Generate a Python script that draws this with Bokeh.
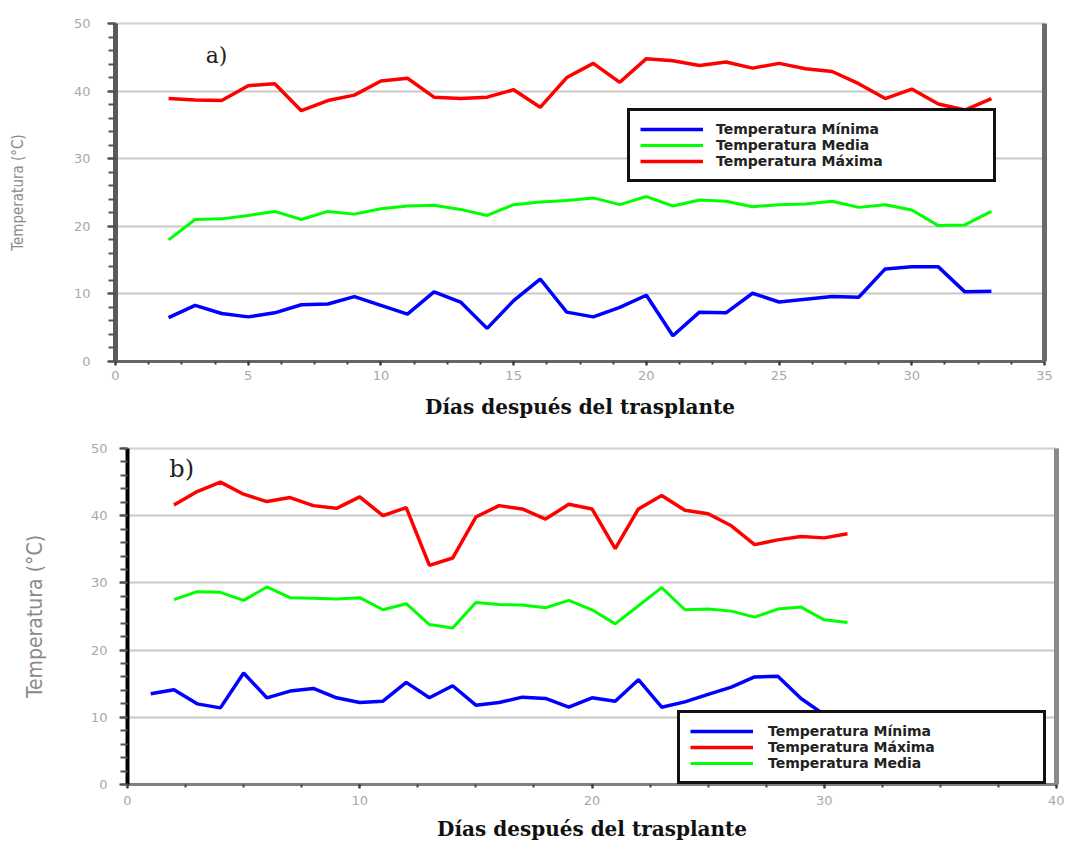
from bokeh.plotting import figure
from bokeh.models import (Legend, LegendItem, Label, LinearAxis, SingleIntervalTicker,
                          FixedTicker, Range1d)
from bokeh.embed import file_html
from bokeh.resources import INLINE

# ---------------- data: panel a ----------------
days_a = list(range(2, 34))
t_min_a = [6.5, 8.3, 7.1, 6.6, 7.2, 8.4, 8.5, 9.6, 8.3, 7.0, 10.3, 8.8, 4.9, 9.0, 12.2,
           7.3, 6.6, 8.0, 9.8, 3.8, 7.3, 7.2, 10.1, 8.8, 9.2, 9.6, 9.5, 13.7, 14.0, 14.0, 10.3, 10.4]
t_med_a = [18.0, 21.0, 21.1, 21.6, 22.2, 21.0, 22.2, 21.8, 22.6, 23.0, 23.1, 22.5, 21.6, 23.2, 23.6,
           23.8, 24.2, 23.2, 24.4, 23.0, 23.9, 23.7, 22.9, 23.2, 23.3, 23.7, 22.8, 23.2, 22.4, 20.1, 20.2, 22.2]
t_max_a = [38.9, 38.7, 38.6, 40.8, 41.1, 37.1, 38.6, 39.4, 41.5, 41.9, 39.1, 38.9, 39.1, 40.2, 37.6,
           42.0, 44.1, 41.3, 44.8, 44.5, 43.8, 44.3, 43.4, 44.1, 43.3, 42.9, 41.1, 38.9, 40.3, 38.1, 37.2, 38.9]

# ---------------- data: panel b ----------------
days_b_min = list(range(1, 32))
days_b = list(range(2, 32))
t_min_b = [13.5, 14.1, 12.0, 11.4, 16.6, 12.9, 13.9, 14.3, 12.9, 12.2, 12.4, 15.2, 12.9, 14.7, 11.8, 12.2, 13.0,
           12.8, 11.5, 12.9, 12.4, 15.6, 11.5, 12.3, 13.4, 14.5, 16.0, 16.1, 12.8, 10.4, 9.0]
t_max_b = [41.6, 43.6, 45.0, 43.2, 42.1, 42.7, 41.5, 41.1, 42.8, 40.0, 41.2, 32.6, 33.7, 39.8, 41.5, 41.0,
           39.5, 41.7, 41.0, 35.1, 41.0, 43.0, 40.8, 40.3, 38.5, 35.7, 36.4, 36.9, 36.7, 37.3]
t_med_b = [27.5, 28.7, 28.6, 27.4, 29.4, 27.8, 27.7, 27.6, 27.8, 26.0, 26.9, 23.8, 23.3, 27.1, 26.8, 26.7,
           26.3, 27.4, 26.0, 23.9, 26.6, 29.3, 26.0, 26.1, 25.8, 24.9, 26.1, 26.4, 24.5, 24.1]

lbl_min = "Temperatura Mínima"
lbl_med = "Temperatura Media"
lbl_max = "Temperatura Máxima"
x_title = "Días después del trasplante"
y_title = "Temperatura (°C)"

BLUE = "#0000ff"
GREEN = "#00ff00"
RED = "#ff0000"


def style(p, xint, left_color, left_w, bottom_color, right_color, ylab_size, ylab_standoff,
          ylabel_tick_standoff, xlab_tick_standoff, xlab_standoff):
    p.xaxis.ticker = SingleIntervalTicker(interval=xint, num_minor_ticks=4)
    p.yaxis.ticker = SingleIntervalTicker(interval=10, num_minor_ticks=5)
    p.xgrid.grid_line_color = None
    p.ygrid.ticker = SingleIntervalTicker(interval=10)
    p.ygrid.grid_line_color = "#c8c8c8"
    p.ygrid.grid_line_width = 2
    p.outline_line_color = "#d0d0d0"
    p.outline_line_width = 2

    for ax in p.yaxis:
        ax.axis_line_color = left_color
        ax.axis_line_width = left_w
        ax.major_tick_line_color = "#333333"
        ax.major_tick_line_width = 2
        ax.major_tick_out = 8
        ax.major_tick_in = 0
        ax.minor_tick_line_color = "#555555"
        ax.minor_tick_line_width = 2
        ax.minor_tick_out = 7
        ax.minor_tick_in = 0
        ax.major_label_text_font = "DejaVu Sans"
        ax.major_label_text_font_size = "13px"
        ax.major_label_text_color = "#a8a8a8"
        ax.major_label_standoff = ylabel_tick_standoff
        ax.axis_label = y_title
        ax.axis_label_text_font = "DejaVu Sans Condensed"
        ax.axis_label_text_font_style = "normal"
        ax.axis_label_text_font_size = ylab_size
        ax.axis_label_text_color = "#8a8a8a"
        ax.axis_label_standoff = ylab_standoff

    for ax in p.xaxis:
        ax.axis_line_color = bottom_color
        ax.axis_line_width = 3
        ax.major_tick_line_color = "#222222"
        ax.major_tick_line_width = 2
        ax.major_tick_out = 4
        ax.major_tick_in = 0
        ax.minor_tick_line_color = "#444444"
        ax.minor_tick_line_width = 2
        ax.minor_tick_out = 3
        ax.minor_tick_in = 0
        ax.major_label_text_font = "DejaVu Sans"
        ax.major_label_text_font_size = "13px"
        ax.major_label_text_color = "#a8a8a8"
        ax.major_label_standoff = xlab_tick_standoff
        ax.axis_label = x_title
        ax.axis_label_text_font = "DejaVu Serif"
        ax.axis_label_text_font_style = "bold"
        ax.axis_label_text_font_size = "20px"
        ax.axis_label_text_color = "#111111"
        ax.axis_label_standoff = xlab_standoff

    right = LinearAxis(ticker=FixedTicker(ticks=[], minor_ticks=[]),
                       major_tick_line_color=None, minor_tick_line_color=None,
                       major_label_standoff=0,
                       axis_line_color=right_color, axis_line_width=5)
    p.add_layout(right, "right")


def make_legend(items, loc, lw, standoff):
    return Legend(items=items, location=loc, glyph_width=63, glyph_height=14, label_height=14,
                  label_width=lw, label_standoff=standoff, spacing=0, padding=10, margin=0,
                  border_line_color="#111111", border_line_width=3, border_line_alpha=1.0,
                  background_fill_color="white", background_fill_alpha=1.0,
                  label_text_font="DejaVu Sans", label_text_font_style="bold",
                  label_text_font_size="14px", label_text_color="#222222")


# ---------------- panel a ----------------
pa = figure(frame_width=929, frame_height=338, output_backend="svg", toolbar_location=None,
            x_range=Range1d(0, 35), y_range=Range1d(0, 50))
pa.min_border_left = 115
pa.min_border_right = 16
pa.min_border_top = 23
pa.min_border_bottom = 64
style(pa, 5, "#5a5a5a", 5, "#666666", "#6a6a6a", "15px", 44, 17, 5, 12)

r_min_a = pa.line(days_a, t_min_a, line_color=BLUE, line_width=3.5)
r_med_a = pa.line(days_a, t_med_a, line_color=GREEN, line_width=3)
r_max_a = pa.line(days_a, t_max_a, line_color=RED, line_width=3.5)

pa.add_layout(make_legend([LegendItem(label=lbl_min, renderers=[r_min_a]),
                           LegendItem(label=lbl_med, renderers=[r_med_a]),
                           LegendItem(label=lbl_max, renderers=[r_max_a])],
                          (512, 179), 267, 13))
pa.add_layout(Label(x=3.4, y=45.3, text="a)", text_baseline="middle", text_align="left",
                    text_font="DejaVu Serif", text_font_size="22px", text_color="#222222"))

# ---------------- panel b ----------------
pb = figure(frame_width=929, frame_height=336, output_backend="svg", toolbar_location=None,
            x_range=Range1d(0, 40), y_range=Range1d(0, 50))
pb.min_border_left = 127
pb.min_border_right = 8
pb.min_border_top = 23
pb.min_border_bottom = 59
style(pb, 10, "#000000", 4, "#808080", "#8a8a8a", "21px", 41, 12, 7, 9)

r_min_b = pb.line(days_b_min, t_min_b, line_color=BLUE, line_width=3.5)
r_max_b = pb.line(days_b, t_max_b, line_color=RED, line_width=3.5)
r_med_b = pb.line(days_b, t_med_b, line_color=GREEN, line_width=3)

pb.add_layout(make_legend([LegendItem(label=lbl_min, renderers=[r_min_b]),
                           LegendItem(label=lbl_max, renderers=[r_max_b]),
                           LegendItem(label=lbl_med, renderers=[r_med_b])],
                          (550, 0), 265, 15))
pb.add_layout(Label(x=1.8, y=47.0, text="b)", text_baseline="middle", text_align="left",
                    text_font="DejaVu Serif", text_font_size="24px", text_color="#222222"))

open("out.html", "w").write(file_html([pa, pb], INLINE))
